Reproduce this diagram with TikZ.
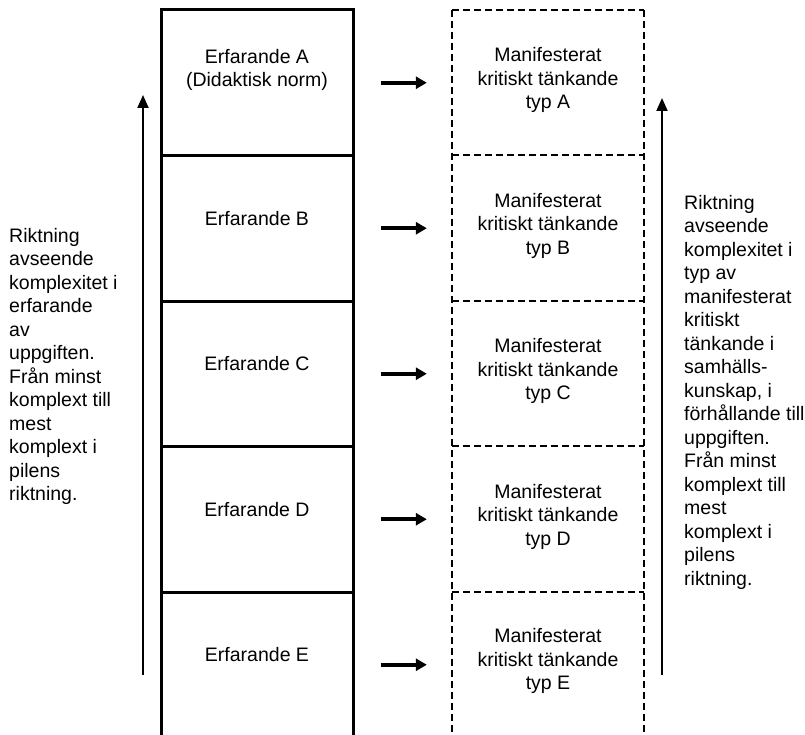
\documentclass[tikz,border=0pt]{standalone}
\usepackage{fontspec}
\setmainfont{Liberation Sans}
\usetikzlibrary{arrows.meta}

\begin{document}
\begin{tikzpicture}[x=1pt,y=-1pt]
    \tikzstyle{every node}=[inner sep=0pt,font=\fontsize{19.5}{23.5}\selectfont]
    \tikzstyle{erfbox}=[draw,line width=3pt,minimum width=192pt,minimum height=145.5pt]
    \tikzstyle{manbox}=[minimum width=192pt,minimum height=145.5pt]
    \tikzstyle{dashline}=[line width=1.8pt,dash pattern=on 7pt off 4pt]
    \tikzstyle{flowarrow}=[line width=3.8pt,-{Triangle[length=11pt,width=12pt]},
                           shorten <=26pt,shorten >=25pt]
    \tikzstyle{dirarrow}=[line width=2pt,-{Triangle[length=13pt,width=11pt]}]
    \tikzstyle{sidetext}=[anchor=north west,align=left]

    \useasboundingbox (0,0) rectangle (805,735);

    % The column of ``Erfarande'' boxes (the last one runs off the page)
    \node[erfbox] (eA) at (257,82.75) {};
    \node[erfbox] (eB) at (257,228.25) {};
    \node[erfbox] (eC) at (257,373.75) {};
    \node[erfbox] (eD) at (257,519.25) {};
    \node[erfbox] (eE) at (257,664.75) {};

    \node (tA) at (257,70) [align=center] {Erfarande A\\(Didaktisk norm)};
    \node (tB) at (257,218.5) {Erfarande B};
    \node (tC) at (257,364) {Erfarande C};
    \node (tD) at (257,509.5) {Erfarande D};
    \node (tE) at (257,655) {Erfarande E};

    % And the dashed boxes for each type
    \node[manbox] (mA) at (548,82.75) {};
    \node[manbox] (mB) at (548,228.25) {};
    \node[manbox] (mC) at (548,373.75) {};
    \node[manbox] (mD) at (548,519.25) {};
    \node[manbox] (mE) at (548,664.75) {};

    % Their sides are drawn once, each top starts at the left side
    \draw[dashline] (mA.north west) -- (mE.south west);
    \draw[dashline] (mA.north east) -- (mE.south east);
    \draw[dashline] (mA.north west) -- (mA.north east);
    \draw[dashline] (mB.north west) -- (mB.north east);
    \draw[dashline] (mC.north west) -- (mC.north east);
    \draw[dashline] (mD.north west) -- (mD.north east);
    \draw[dashline] (mE.north west) -- (mE.north east);

    \node (uA) at (548,80) [align=center] {Manifesterat\\kritiskt tänkande\\typ A};
    \node (uB) at (548,225.5) [align=center] {Manifesterat\\kritiskt tänkande\\typ B};
    \node (uC) at (548,371) [align=center] {Manifesterat\\kritiskt tänkande\\typ C};
    \node (uD) at (548,516.5) [align=center] {Manifesterat\\kritiskt tänkande\\typ D};
    \node (uE) at (548,661) [align=center] {Manifesterat\\kritiskt tänkande\\typ E};

    % Arrows from each box to its type
    \draw[flowarrow] (eA) -- (mA);
    \draw[flowarrow] (eB) -- (mB);
    \draw[flowarrow] (eC) -- (mC);
    \draw[flowarrow] (eD) -- (mD);
    \draw[flowarrow] (eE) -- (mE);

    % The two long arrows pointing upwards
    \coordinate (lbot) at (143,675);
    \coordinate (ltop) at (143,95);
    \coordinate (rbot) at (662,675);
    \coordinate (rtop) at (662,98);
    \draw[dirarrow] (lbot) -- (ltop);
    \draw[dirarrow] (rbot) -- (rtop);

    % Texts beside the arrows
    \node[sidetext] (lefttext) at (9,228) {Riktning\\avseende\\komplexitet i\\erfarande\\av\\uppgiften.\\Från minst\\komplext till\\mest\\komplext i\\pilens\\riktning.};
    \node[sidetext] (righttext) at (684,195) {Riktning\\avseende\\komplexitet i\\typ av\\manifesterat\\kritiskt\\tänkande i\\samhälls-\\kunskap, i\\förhållande till\\uppgiften.\\Från minst\\komplext till\\mest\\komplext i\\pilens\\riktning.};
\end{tikzpicture}
\end{document}
